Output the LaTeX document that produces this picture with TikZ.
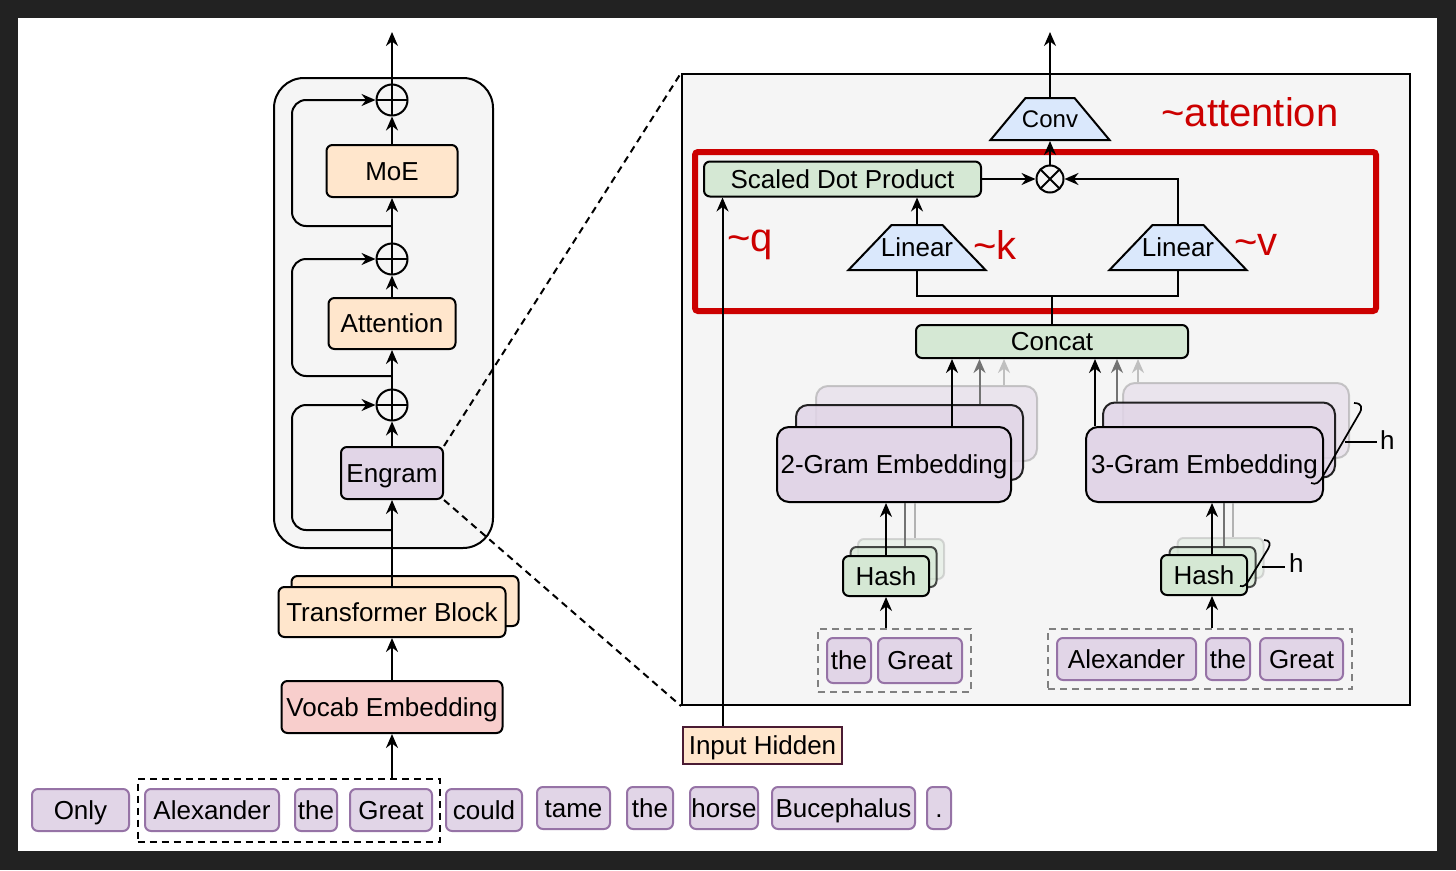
\documentclass[tikz,border=0pt]{standalone}
\usepackage{fontspec}
\setmainfont{Liberation Sans}
\usepackage{tikz}
\usetikzlibrary{shapes.geometric, arrows.meta, positioning, calc, fit}

\definecolor{peach}{HTML}{FFE6CC}
\definecolor{vocabpink}{HTML}{F8CECC}
\definecolor{lilac}{HTML}{E1D5E7}
\definecolor{lilacline}{HTML}{9673A6}
\definecolor{mint}{HTML}{D5E8D4}
\definecolor{skyblue}{HTML}{DAE8FC}
\definecolor{hlred}{HTML}{CC0000}
\definecolor{panelgray}{HTML}{F5F5F5}
\definecolor{framedark}{HTML}{222222}
\definecolor{hiddenline}{HTML}{4A1B33}

\begin{document}
\begin{tikzpicture}[
    x=1pt, y=-1pt,
    line width=2pt,
    box/.style={rectangle, draw, rounded corners=6pt, inner sep=0pt, align=center, text height=18.6pt, text depth=0pt, font=\fontsize{26}{31}\selectfont},
    embbox/.style={box, fill=lilac, rounded corners=12pt, minimum height=75pt},
    hashbox/.style={box, fill=mint, minimum width=86pt, minimum height=40pt},
    token/.style={rectangle, draw=lilacline, fill=lilac, rounded corners=6pt, inner sep=0pt, minimum height=42pt, text height=18.6pt, text depth=0pt, font=\fontsize{26}{31}\selectfont},
    trap/.style={trapezium, draw, fill=skyblue, inner sep=1pt, trapezium stretches=true},
    lbl/.style={inner sep=0pt, font=\fontsize{26}{31}\selectfont},
    hltext/.style={inner sep=0pt, text=hlred, font=\fontsize{40}{46}\selectfont},
    plusnode/.style={circle, draw, minimum size=31pt, inner sep=0pt,
        path picture={\draw (path picture bounding box.north) -- (path picture bounding box.south)
                            (path picture bounding box.west) -- (path picture bounding box.east);}},
    timesnode/.style={circle, draw, minimum size=27pt, inner sep=0pt,
        path picture={\draw (path picture bounding box.north west) -- (path picture bounding box.south east)
                            (path picture bounding box.north east) -- (path picture bounding box.south west);}},
    grouped/.style={draw, dash pattern=on 7pt off 5pt, inner sep=8pt},
    arrow/.style={-{Stealth[length=14pt,width=12pt]}}
]
% frame
\fill[framedark] (0,0) rectangle (1456,870);
\fill[white] (18,18) rectangle (1437,851);
\useasboundingbox (0,0) rectangle (1456,870);

% === Left: one transformer layer ===
\node[draw, fill=panelgray, rounded corners=30pt, inner sep=0pt, minimum width=219pt, minimum height=470pt] (layer) at (383.5,313) {};

\node[plusnode] (add1) at (392,100) {};
\node[box, fill=peach, minimum width=131pt, minimum height=52pt] (moe) at (392,171) {MoE};
\node[plusnode] (add2) at (392,259) {};
\node[box, fill=peach, minimum width=127pt, minimum height=51pt] (attn) at (392,323.5) {Attention};
\node[plusnode] (add3) at (392,405) {};
\node[box, fill=lilac, minimum width=102pt, minimum height=52pt] (engram) at (392,473) {Engram};

% stacked block, vocab embedding
\node[box, fill=peach, minimum width=227pt, minimum height=50pt] (tblockbg) at (405,601) {};
\node[box, fill=peach, minimum width=227pt, minimum height=50pt] (tblock) at (392,612) {Transformer Block};
\node[box, fill=vocabpink, minimum width=221pt, minimum height=52pt] (vocab) at (392,707) {Vocab Embedding};

% Sentence tokens
\node[token, minimum width=97pt] (tokOnly) at (80.5,810) {Only};
\node[token, minimum width=134pt] (tokAlex) at (212,810) {Alexander};
\node[token, minimum width=42pt] (tokThe) at (316,810) {the};
\node[token, minimum width=82pt] (tokGreat) at (391,810) {Great};
\node[token, minimum width=76pt] (tokCould) at (484,810) {could};
\node[token, minimum width=73pt] (tokTame) at (573.5,808) {tame};
\node[token, minimum width=46pt] (tokThe2) at (650,808) {the};
\node[token, minimum width=68pt] (tokHorse) at (724,808) {horse};
\node[token, minimum width=143pt] (tokBuc) at (843.5,808) {Bucephalus};
\node[token, minimum width=24pt] (tokDot) at (939,808) {.};
\node[grouped, fit=(tokAlex)(tokGreat), inner xsep=6.5pt, inner ysep=9.5pt] (phrase) {};

% main path
\draw[arrow] (phrase.north -| vocab.south) -- (vocab.south);
\draw[arrow] (vocab) -- (tblock);
\draw[arrow] (tblock) -- (engram);
\draw[arrow] (engram) -- (add3);
\draw[arrow] (add3) -- (attn);
\draw[arrow] (attn) -- (add2);
\draw[arrow] (add2) -- (moe);
\draw[arrow] (moe) -- (add1);
\coordinate (out1) at (392,32);
\draw[arrow] (add1) -- (out1);

% residuals
\coordinate (skip1) at (392,226);
\coordinate (skip2) at (392,376);
\coordinate (skip3) at (392,530);
\draw[arrow, rounded corners=14pt] (skip1) -- ++(-100,0) |- (add1.west);
\draw[arrow, rounded corners=14pt] (skip2) -- ++(-100,0) |- (add2.west);
\draw[arrow, rounded corners=14pt] (skip3) -- ++(-100,0) |- (add3.west);

% === Right: Engram module ===
\node[draw, fill=panelgray, inner sep=0pt, minimum width=728pt, minimum height=631pt] (zoomed) at (1046,389.5) {};
\draw[dash pattern=on 7pt off 5pt] (engram.north east) -- (zoomed.north west);
\draw[dash pattern=on 7pt off 5pt] (engram.south east) -- (zoomed.south west);

% Gating / attention part
\node[trap, minimum width=119pt, minimum height=42pt, trapezium angle=54.5, label={[lbl, font=\fontsize{24}{28}\selectfont]center:Conv}] (conv) at (1050,119) {};
\node[timesnode] (mul) at (1050,179) {};
\node[box, fill=mint, minimum width=277pt, minimum height=35pt] (sdp) at (842.5,179) {Scaled Dot Product};
\node[trap, minimum width=137pt, minimum height=45pt, trapezium angle=49.8, label={[lbl]center:Linear}] (link) at (917,247.5) {};
\node[trap, minimum width=137pt, minimum height=45pt, trapezium angle=49.8, label={[lbl]center:Linear}] (linv) at (1178,247.5) {};
\node[box, fill=mint, minimum width=272pt, minimum height=33pt] (concat) at (1052,341.5) {Concat};

\node[draw=hlred, line width=6pt, rounded corners=3pt, inner sep=0pt, minimum width=681pt, minimum height=159pt] (attnbox) at (1035.5,231.5) {};
\node[hltext] (attnlabel) at (1250,112) {\textasciitilde attention};
\node[hltext] (qlabel) at (750,245) {\textasciitilde q};
\node[hltext] (klabel) at (995,245) {\textasciitilde k};
\node[hltext] (vlabel) at (1256,245) {\textasciitilde v};

\coordinate (out2) at (1050,32);
\draw[arrow] (conv.north) -- (out2);
\draw[arrow] (mul.north) -- (conv.south);
\draw[arrow] (sdp.east) -- (mul.west);
\draw[arrow] (linv.north) |- (mul.east);
\draw[arrow] (link.north) -- (link.north |- sdp.south);
\draw (concat.north) -- ++(0,-28) coordinate (fork);
\draw (link.south) |- (fork) -| (linv.south);

% query input
\node[box, rounded corners=0pt, fill=peach, draw=hiddenline, minimum width=159pt, minimum height=37pt] (inhid) at (762.5,745.5) {Input Hidden};
\draw[arrow] ([xshift=-40pt]inhid.north) -- ([xshift=-40pt]inhid.north |- sdp.south);

% 2-gram branch
\node[embbox, draw=black!40, opacity=0.5, minimum width=221pt] (g2c) at (926.5,423.5) {};
\node[embbox, opacity=0.85, minimum width=227pt] (g2b) at (909.5,442.5) {};
\node[embbox, minimum width=234pt] (g2a) at (894,464.5) {2-Gram Embedding};
\draw[arrow] ([xshift=58pt]g2a.north) -- ([xshift=58pt]g2a.north |- concat.south);
\draw[arrow, black!55] ([xshift=70pt]g2b.north) -- ([xshift=70pt]g2b.north |- concat.south);
\draw[arrow, black!25] ([xshift=77.5pt]g2c.north) -- ([xshift=77.5pt]g2c.north |- concat.south);

\node[hashbox, draw=black!40, opacity=0.35] (h2c) at (901,559) {};
\node[hashbox, opacity=0.7] (h2b) at (893.5,567) {};
\node[hashbox] (h2a) at (886,576) {Hash};
\draw[black!55] ([xshift=11pt]h2b.north) -- ([xshift=11pt]h2b.north |- g2a.south);
\draw[black!30] ([xshift=14pt]h2c.north) -- ([xshift=14pt]h2c.north |- g2a.south);
\draw[arrow] (h2a.north) -- (h2a.north |- g2a.south);

\node[token, minimum width=44pt, minimum height=45pt] (g2the) at (849,660.5) {the};
\node[token, minimum width=84pt, minimum height=45pt] (g2great) at (920,660.5) {Great};
\node[grouped, draw=black!50, fit=(g2the)(g2great)] (g2grp) {};
\draw[arrow] (g2grp.north -| h2a.south) -- (h2a.south);

% 3-gram branch
\node[embbox, draw=black!40, opacity=0.5, minimum width=226pt] (g3c) at (1236,420.5) {};
\node[embbox, opacity=0.85, minimum width=232pt] (g3b) at (1219,440) {};
\node[embbox, minimum width=237pt] (g3a) at (1204.5,464.5) {3-Gram Embedding};
\draw[arrow] ([xshift=-109.5pt]g3a.north) -- ([xshift=-109.5pt]g3a.north |- concat.south);
\draw[arrow, black!55] ([xshift=-102pt]g3b.north) -- ([xshift=-102pt]g3b.north |- concat.south);
\draw[arrow, black!25] ([xshift=-98pt]g3c.north) -- ([xshift=-98pt]g3c.north |- concat.south);

\node[hashbox, draw=black!40, opacity=0.35] (h3c) at (1220.5,558) {};
\node[hashbox, opacity=0.7] (h3b) at (1212.5,567) {};
\node[hashbox] (h3a) at (1204,575) {Hash};
\draw[black!55] ([xshift=11.5pt]h3b.north) -- ([xshift=11.5pt]h3b.north |- g3a.south);
\draw[black!30] ([xshift=12.5pt]h3c.north) -- ([xshift=12.5pt]h3c.north |- g3a.south);
\draw[arrow] ([xshift=8pt]h3a.north) -- ([xshift=8pt]h3a.north |- g3a.south);

\node[token, minimum width=139pt] (g3alex) at (1126.5,659) {Alexander};
\node[token, minimum width=44pt] (g3the) at (1228,659) {the};
\node[token, minimum width=83pt] (g3great) at (1301.5,659) {Great};
\node[grouped, draw=black!50, fit=(g3alex)(g3great), inner sep=8pt] (g3grp) {};
\draw[arrow] ([xshift=8pt]h3a.south |- g3grp.north) -- ([xshift=8pt]h3a.south);

% head braces
\draw[line width=1.7pt] (1354,403) .. controls (1362,403) and (1363,408) .. (1359,414) -- (1323,476) .. controls (1319,483) and (1316,485) .. (1311,483);
\draw (1345,442) -- (1377,442);
\node[lbl, anchor=west] (h3heads) at (1379,440) {h};
\draw[line width=1.7pt] (1264,540) .. controls (1270,540) and (1271,544) .. (1268,549) -- (1249,580) .. controls (1246,585) and (1244,587) .. (1240,586);
\draw (1262,567) -- (1285,567);
\node[lbl, anchor=west] (h3hash) at (1288,563) {h};
\end{tikzpicture}
\end{document}
